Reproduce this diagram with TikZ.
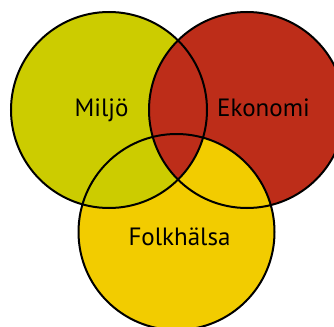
\documentclass[tikz,border=0pt]{standalone}
\usepackage{fontspec}
\setmainfont{PT Sans}
\definecolor{miljo}{RGB}{204,204,0}
\definecolor{ekonomi}{RGB}{189,45,25}
\definecolor{folk}{RGB}{242,204,0}
\begin{document}
\begin{tikzpicture}[x=1pt,y=-1pt,
  ring/.style={draw=black,line width=2pt},
  lbl/.style={font=\fontsize{25}{25}\selectfont,text=black,anchor=base,inner sep=0pt}]
\useasboundingbox (0,0) rectangle (334,326);
\begin{scope}
\clip (0,0) rectangle (334,326);
\coordinate (cm) at (109,110);
\coordinate (ce) at (247,110);
\coordinate (cf) at (176.5,232);
\fill[folk] (cf) circle (98);
\fill[miljo] (cm) circle (98);
\fill[ekonomi] (ce) circle (98);
\begin{scope}
\clip (ce) circle (98);
\fill[folk] (cf) circle (98);
\clip (cm) circle (98);
\fill[ekonomi] (cf) circle (98);
\end{scope}
\draw[ring] (cm) circle (98);
\draw[ring] (ce) circle (98);
\draw[ring] (cf) circle (98);
\end{scope}
\node[lbl] (m) at (101.5,116) {Miljö};
\node[lbl] (e) at (263.5,116) {Ekonomi};
\node[lbl] (f) at (179.5,245) {Folkhälsa};
\end{tikzpicture}
\end{document}
